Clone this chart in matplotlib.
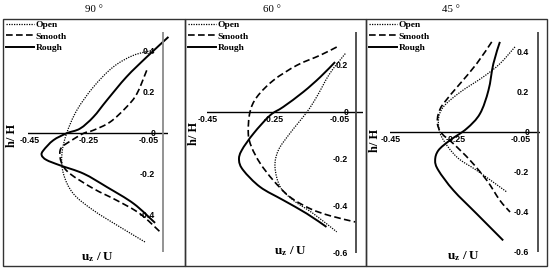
import matplotlib
matplotlib.use('Agg')
import matplotlib.pyplot as plt
import numpy as np
from matplotlib.patches import Rectangle, PathPatch
from matplotlib.path import Path
from matplotlib.lines import Line2D

plt.rcParams['mathtext.fontset'] = 'custom'
plt.rcParams['mathtext.rm'] = 'Liberation Serif'
plt.rcParams['mathtext.bf'] = 'Liberation Serif:bold'
plt.rcParams['mathtext.it'] = 'Liberation Serif:italic'

# ---------------- data ----------------
titles = ['90 °', '60 °', '45 °']
series_names = ['Open', 'Smooth', 'Rough']
x_ticks = [-0.45, -0.25, -0.05]
y_ticks_90 = [0.4, 0.2, 0, -0.2, -0.4, -0.6]
y_ticks_60 = [0.2, 0, -0.2, -0.4, -0.6]
y_ticks_45 = [0.4, 0.2, 0, -0.2, -0.4, -0.6]

# 90 degrees
open_90_u = [-0.034, -0.101, -0.169, -0.235, -0.291, -0.325, -0.341, -0.336, -0.303, -0.235, -0.146, -0.062]
open_90_h = [0.405, 0.38, 0.323, 0.226, 0.112, 0.0, -0.1, -0.197, -0.294, -0.376, -0.457, -0.53]
smooth_90_u = [-0.056, -0.089, -0.124, -0.179, -0.235, -0.268, -0.308, -0.341, -0.348, -0.341, -0.314, -0.235, -0.157, -0.079, -0.011]
smooth_90_h = [0.307, 0.193, 0.128, 0.055, 0.015, 0.0, -0.034, -0.067, -0.1, -0.148, -0.197, -0.27, -0.327, -0.392, -0.481]
rough_90_u = [0.017, -0.056, -0.124, -0.19, -0.235, -0.28, -0.325, -0.37, -0.403, -0.409, -0.393, -0.348, -0.268, -0.19, -0.1, -0.028]
rough_90_h = [0.47, 0.372, 0.275, 0.161, 0.08, 0.023, 0.0, -0.034, -0.083, -0.107, -0.13, -0.156, -0.197, -0.262, -0.343, -0.437]

# 60 degrees
open_60_u = [-0.034, -0.081, -0.121, -0.151, -0.202, -0.237, -0.247, -0.231, -0.192, -0.131, -0.06]
open_60_h = [0.25, 0.165, 0.065, 0.0, -0.09, -0.162, -0.233, -0.318, -0.374, -0.431, -0.509]
smooth_60_u = [-0.06, -0.11, -0.181, -0.252, -0.302, -0.323, -0.328, -0.318, -0.292, -0.252, -0.202, -0.141, -0.081, -0.003]
smooth_60_h = [0.278, 0.243, 0.2, 0.136, 0.065, 0.0, -0.09, -0.148, -0.217, -0.29, -0.36, -0.41, -0.44, -0.467]
rough_60_u = [-0.065, -0.11, -0.161, -0.222, -0.262, -0.312, -0.348, -0.356, -0.343, -0.292, -0.222, -0.151, -0.091]
rough_60_h = [0.214, 0.15, 0.087, 0.023, -0.013, -0.09, -0.162, -0.204, -0.247, -0.318, -0.374, -0.431, -0.488]

# 45 degrees
open_45_u = [-0.069, -0.115, -0.166, -0.237, -0.288, -0.303, -0.293, -0.247, -0.186, -0.115, -0.094]
open_45_h = [0.427, 0.343, 0.277, 0.2, 0.127, 0.06, -0.023, -0.123, -0.19, -0.273, -0.298]
smooth_45_u = [-0.14, -0.186, -0.237, -0.288, -0.303, -0.306, -0.293, -0.257, -0.206, -0.155, -0.115, -0.084]
smooth_45_h = [0.452, 0.343, 0.243, 0.143, 0.093, 0.043, -0.005, -0.057, -0.14, -0.24, -0.34, -0.398]
rough_45_u = [-0.115, -0.135, -0.15, -0.176, -0.217, -0.268, -0.303, -0.313, -0.303, -0.257, -0.186, -0.105]
rough_45_h = [0.452, 0.343, 0.21, 0.093, 0.018, -0.04, -0.09, -0.14, -0.19, -0.29, -0.407, -0.54]

panels_data = [
    [(open_90_u, open_90_h), (smooth_90_u, smooth_90_h), (rough_90_u, rough_90_h)],
    [(open_60_u, open_60_h), (smooth_60_u, smooth_60_h), (rough_60_u, rough_60_h)],
    [(open_45_u, open_45_h), (smooth_45_u, smooth_45_h), (rough_45_u, rough_45_h)],
]
panels_yticks = [y_ticks_90, y_ticks_60, y_ticks_45]


def smooth_path(u, h):
    """Excel-like smoothed line: Catmull-Rom curve through the data points as cubic Beziers."""
    p = np.column_stack([u, h]).astype(float)
    n = len(p)
    verts = [p[0]]
    codes = [Path.MOVETO]
    for k in range(n - 1):
        p0 = p[k - 1] if k > 0 else p[k]
        p1, p2 = p[k], p[k + 1]
        p3 = p[k + 2] if k + 2 < n else p[k + 1]
        c1 = p1 + (p2 - p0) / 6.0
        c2 = p2 - (p3 - p1) / 6.0
        verts += [c1, c2, p2]
        codes += [Path.CURVE4] * 3
    return Path(np.array(verts), codes)


# ---------------- layout (pixels) ----------------
W, H = 550, 270
fig = plt.figure(figsize=(5.5, 2.7), dpi=100)

boxes = [(2.7, 184.5), (184.5, 365.5), (365.5, 546.7)]
box_top, box_bot = 19, 265.7
axes_px = [(28, 168, 32, 252), (206.7, 363, 32, 253), (390, 540, 32, 252)]
xlims = [(-0.455, 0.0155), (-0.454, 0.0197), (-0.451, 0.0076)]
ylims = [(-0.579, 0.494), (-0.599, 0.342), (-0.598, 0.5015)]
vline_colors = ['#8a8a8a', '#444444', '#444444']
hlabel_y = [135, 133, 140]
ulabel_pos = [(97.5, 257), (291, 251), (464, 256)]
title_x = [94, 272, 451]

styles = [dict(linestyle=(0, (1, 1)), lw=0.9, color='black'),
          dict(linestyle=(0, (4, 2)), lw=1.2, color='black'),
          dict(linestyle='-', lw=1.4, color='black')]

tick_font = dict(family='Liberation Sans', weight='bold', size=6.3)

for i in range(3):
    L, R, T, B = axes_px[i]
    ax = fig.add_axes([L / W, 1 - B / H, (R - L) / W, (B - T) / H])
    ax.set_xlim(*xlims[i])
    ax.set_ylim(*ylims[i])
    ax.axis('off')
    ax.axhline(0, color='black', lw=1.0)
    ax.axvline(0, color=vline_colors[i], lw=1.3)
    handles = []
    for (u, h), st, name in zip(panels_data[i], styles, series_names):
        patch = PathPatch(smooth_path(u, h), fill=False, edgecolor=st['color'],
                          linestyle=st['linestyle'], lw=st['lw'], clip_on=False,
                          capstyle='butt', joinstyle='round')
        ax.add_patch(patch)
        handles.append(Line2D([], [], label=name, **st))
    for xt in x_ticks:
        ax.annotate(f'{xt:.2f}', (xt, 0), xytext=(0, -2.2), textcoords='offset points',
                    ha='center', va='top', **tick_font)
    for yt in panels_yticks[i]:
        lab = '0' if yt == 0 else f'{yt:.1f}'
        ax.annotate(lab, (0, yt), xytext=(-6, 0), textcoords='offset points',
                    ha='right', va='center', **tick_font)
    bl, br = boxes[i]
    fig.add_artist(Rectangle((bl / W, 1 - box_bot / H), (br - bl) / W, (box_bot - box_top) / H,
                             transform=fig.transFigure, fill=False, edgecolor='#333333', lw=1.0))
    fig.legend(handles=handles, loc='upper left',
               bbox_to_anchor=((bl + 2.5) / W, 1 - (box_top + 0.8) / H),
               frameon=False, handlelength=3.0, handletextpad=0.12, labelspacing=0.3,
               borderpad=0.1, borderaxespad=0,
               prop=dict(family='Liberation Serif', weight='bold', size=6.8))
    fig.text(title_x[i] / W, 1 - 10 / H, titles[i], ha='center', va='center',
             family='Liberation Serif', size=7.8)
    fig.text((bl + 9.5) / W, 1 - hlabel_y[i] / H, 'h/ H', rotation=90, ha='center', va='center',
             family='Liberation Serif', weight='bold', size=9)
    ux, uy = ulabel_pos[i]
    fig.text(ux / W, 1 - uy / H, r'$\mathbf{u_z\ /\ U}$', ha='center', va='center', size=9.5)

fig.savefig('out.png', dpi=100)
